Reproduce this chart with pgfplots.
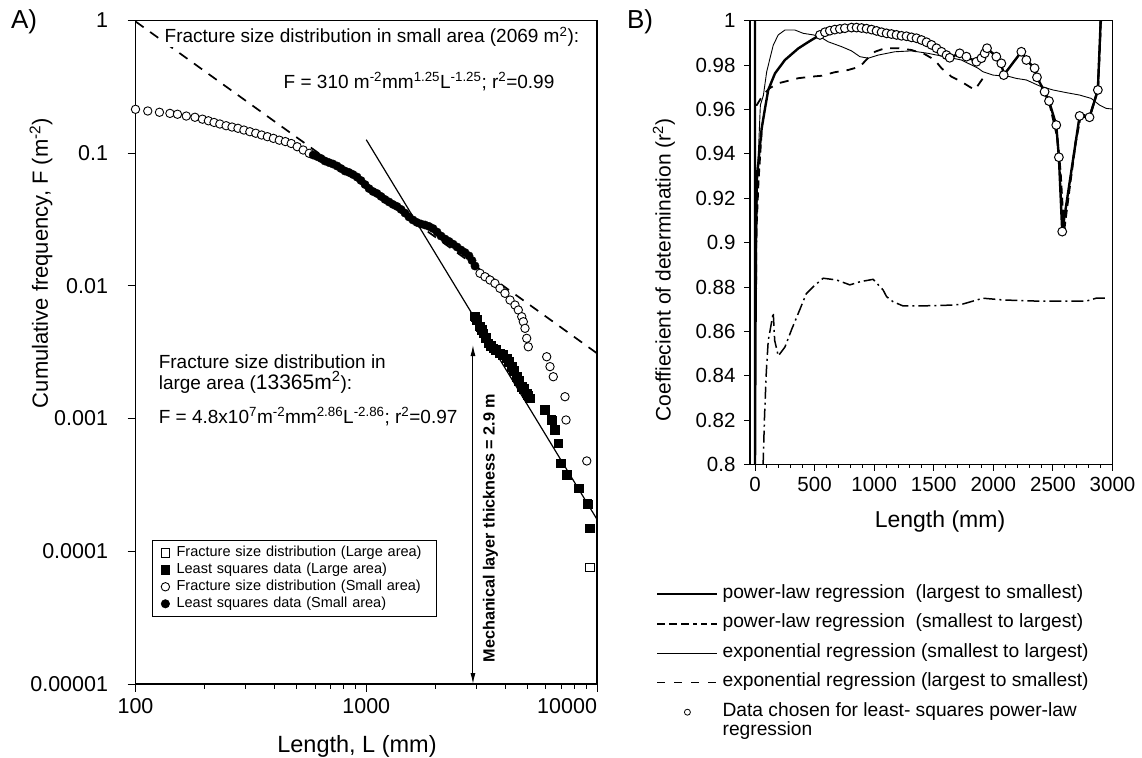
\documentclass[border=0pt]{standalone}
\usepackage{fontspec}
\setmainfont{Liberation Sans}
\usepackage{pgfplots}
\pgfplotsset{compat=1.18}
\usetikzlibrary{arrows.meta}
\newcommand\fs[1]{\fontsize{#1}{#1}\selectfont}
\begin{document}
\begin{tikzpicture}[x=1pt,y=1pt]
\useasboundingbox (0,0) rectangle (1142,757);
% ---------------- Panel A ----------------
\begin{axis}[
 at={(135.5pt,73pt)}, anchor=south west, scale only axis,
 width=461.5pt, height=663.7pt,
 xmode=log, ymode=log, xmin=100, xmax=10000, ymin=1e-5, ymax=1,
 clip=false,
 tick pos=left, tick align=outside,
 major tick length=8pt, minor tick length=5pt,
 every tick/.style={black, line width=1pt},
 axis line style={line width=1.3pt},
 xtick={100,1000,10000}, xticklabels={100,1000,\llap{10000}},
 ytick={1,0.1,0.01,0.001,0.0001,0.00001},
 yticklabels={1,0.1,0.01,0.001,0.0001,0.00001},
 ticklabel style={font=\fs{21.5}},
 yticklabel style={xshift=-16pt},
 xticklabel style={yshift=-3pt},
 /pgf/number format/assume math mode=true,
 legend style={at={(axis description cs:0.0355,0.217)}, anchor=north west,
   draw=black, line width=0.6pt, font=\fs{14.5}, inner xsep=9pt, inner ysep=5pt, row sep=2pt, column sep=6pt,
   nodes={inner sep=1pt, text height=10pt, text depth=3pt, text width=250pt}},
 legend cell align=left,
]
\addplot[forget plot, black, line width=1.7pt, dash pattern=on 10pt off 8pt] coordinates {(100,0.98) (10000,0.0031)};
\addplot[forget plot, black, line width=1.2pt] coordinates {(1000,0.126) (10000,0.000174)};
\addplot[only marks, mark=square*, mark size=4.2pt, mark options={draw=black, fill=white, line width=0.9pt}] coordinates {
(2958,0.00585) (3020,0.00553) (3112,0.00492) (3174,0.00464) (3215,0.00438) (3304,0.00404) (3381,0.00369) (3472,0.00352) (3553,0.00338) (3650,0.00328) (3797,0.0031) (3914,0.00301) (4061,0.00284) (4155,0.00267) (4266,0.00246) (4368,0.00228) (4484,0.002065) (4592,0.00192) (4718,0.00174) (4828,0.00167) (4958,0.00155) (5023,0.0015) (5124,0.00142) (5953,0.00116) (6364,0.000975) (6577,0.000819) (6797,0.00065) (6982,0.00046) (7413,0.000376) (8350,0.000298) (9100,0.000227) (9327,0.000149) (9327,0.0000757)};
\addlegendentry{Fracture size distribution (Large area)}
\addplot[only marks, mark=square*, mark size=4.2pt, mark options={draw=black, fill=black}] coordinates {
(2958,0.00585) (3020,0.00553) (3112,0.00492) (3174,0.00464) (3215,0.00438) (3304,0.00404) (3381,0.00369) (3472,0.00352) (3553,0.00338) (3650,0.00328) (3797,0.0031) (3914,0.00301) (4061,0.00284) (4155,0.00267) (4266,0.00246) (4368,0.00228) (4484,0.002065) (4592,0.00192) (4718,0.00174) (4828,0.00167) (4958,0.00155) (5023,0.0015) (5124,0.00142) (5953,0.00116) (6364,0.000975) (6577,0.000819) (6797,0.00065) (6982,0.00046) (7413,0.000376) (8350,0.000298) (9100,0.000227) (9327,0.000149)};
\addlegendentry{Least squares data (Large area)}
\addplot[only marks, mark=*, mark size=4.2pt, mark options={draw=black, fill=white, line width=0.9pt}] coordinates {
(100,0.2135) (113,0.2074) (127,0.2028) (141,0.199) (152,0.196) (166,0.190) (181,0.186) (195,0.180) (207,0.175) (219,0.170) (232,0.1655) (247,0.1607) (262,0.157) (278,0.1536) (295,0.149) (313,0.1448) (332,0.141) (352,0.1367) (373,0.1328) (396,0.129) (420,0.125) (446,0.122) (473,0.118) (502,0.1116) (533,0.1054) (566,0.0995)
(3112,0.01242) (3271,0.0117) (3437,0.01105) (3612,0.01044) (3797,0.00957) (3992,0.00878) (4198,0.00781) (4412,0.00716) (4560,0.00657) (4718,0.00585) (4794,0.00536) (4875,0.00478) (4958,0.00402) (5038,0.00347) (6053,0.00292) (6256,0.00246) (6465,0.002065) (7265,0.00146) (7340,0.000975) (9030,0.000479)};
\addlegendentry{Fracture size distribution (Small area)}
\addplot[only marks, mark=*, mark size=4.2pt, mark options={draw=black, fill=black}] coordinates {
(589,0.0966) (612,0.0942) (637,0.0910) (662,0.0871) (689,0.0848) (717,0.0827) (747,0.0799) (777,0.0765) (809,0.0732) (842,0.0714) (876,0.0689) (912,0.0660) (949,0.0621) (988,0.0579) (1028,0.0540) (1070,0.0513) (1113,0.0496) (1159,0.0471) (1206,0.0447) (1255,0.0428) (1306,0.0410) (1359,0.0396) (1415,0.0376) (1472,0.0353) (1532,0.0330) (1594,0.0313) (1659,0.0300) (1727,0.0292) (1798,0.0287) (1871,0.0280) (1947,0.0270) (2026,0.0254) (2109,0.0237) (2195,0.0225) (2284,0.0216) (2377,0.0206) (2474,0.0196) (2574,0.0186) (2679,0.0178) (2788,0.0168) (2873,0.0155) (2960,0.0141)};
\addlegendentry{Least squares data (Small area)}
\draw[{Latex[length=11pt,width=5pt]}-{Latex[length=11pt,width=5pt]}, line width=1pt] (axis cs:2900,0.00358) -- (axis cs:2900,0.00001);
\end{axis}
% ---------------- Panel B ----------------
\begin{axis}[
 at={(750pt,292.3pt)}, anchor=south west, scale only axis,
 width=362.5pt, height=444pt,
 xmin=-42, xmax=3000, ymin=0.8, ymax=1,
 clip=false, unbounded coords=jump,
 tick pos=left, tick align=outside,
 major tick length=6pt, minor tick length=3pt,
 every tick/.style={black, line width=1pt},
 axis line style={line width=1.2pt},
 xtick={0,500,1000,1500,2000,2500,3000}, xticklabels={0,500,1000,1500,2000,2500,3000},
 minor x tick num=4,
 ytick={0.8,0.82,0.84,0.86,0.88,0.9,0.92,0.94,0.96,0.98,1},
 yticklabels={0.8,0.82,0.84,0.86,0.88,0.9,0.92,0.94,0.96,0.98,1},
 ticklabel style={font=\fs{20.5}},
 yticklabel style={xshift=-5pt},
 xticklabel style={yshift=-3pt},
 legend style={at={(axis description cs:-0.2593,-0.2732)}, anchor=north west,
   draw=none, fill=none, font=\fs{19.2}, inner sep=0pt, row sep=13.5pt, column sep=4pt,
   nodes={inner sep=0pt, text height=12pt, text depth=4pt}},
 legend cell align=left,
]
\addplot[black, line width=2.4pt, legend image code/.code={\draw[black, line width=2.4pt] (0pt,0pt) -- (60pt,0pt);}] coordinates {
(0,1.0) (0,0.8) (4,0.86) (9,0.905) (14,0.9275) (34,0.9395) (56,0.9515) (84,0.9605) (111,0.9688) (168,0.9763) (251,0.9823) (363,0.9875) (450,0.9905)
(545,0.9936) (587,0.9948) (628,0.9955) (670,0.9960) (712,0.9963) (754,0.9966) (810,0.9969) (852,0.9969) (894,0.9967) (936,0.9964) (978,0.9960) (1020,0.9954) (1062,0.9948) (1104,0.9943) (1145,0.9940) (1187,0.9936) (1229,0.9932) (1271,0.9930) (1313,0.9925) (1355,0.9921) (1397,0.9913) (1439,0.9903) (1481,0.9891) (1523,0.9876) (1565,0.9860) (1607,0.9845) (1634,0.9833) (1718,0.9853) (1774,0.9838) (1858,0.9815) (1900,0.9831) (1927,0.9853) (1947,0.9876) (2025,0.9838) (2067,0.9808) (2087,0.9755) (2235,0.9860) (2277,0.9823) (2346,0.9786) (2366,0.9745) (2430,0.9680) (2467,0.9638) (2528,0.9530) (2550,0.9385) (2578,0.9050) (2724,0.9571) (2807,0.9565) (2877,0.9688) (2900,0.999) (2903,1.0)};
\addlegendentry{power-law regression\ \ (largest to smallest)}
\addplot[black, line width=2.2pt, dash pattern=on 8pt off 4pt, legend image code/.code={\draw[black, line width=2.4pt] (0pt,0pt) -- (40pt,0pt); \draw[black, line width=2.4pt] (44pt,0pt) -- (50pt,0pt); \draw[black, line width=2.4pt] (54pt,0pt) -- (60pt,0pt);}] coordinates {
(6,0.865) (10,0.905) (28,0.928) (56,0.9515) (60,nan)
(2430,0.9680) (2475,0.962) (2535,0.948) (2563,0.932) (2592,0.905) (2640,0.925) (2690,0.945) (2735,0.958) (2807,0.9565) (2877,0.9688) (2895,0.99) (2900,1.0)};
\addlegendentry{power-law regression\ \ (smallest to largest)}
\addplot[black, line width=0.9pt, legend image code/.code={\draw[black, line width=0.9pt] (0pt,0pt) -- (60pt,0pt);}] coordinates {
(5,0.87) (20,0.93) (45,0.962) (70,0.9663) (98,0.977) (153,0.989) (195,0.9936) (251,0.9958) (335,0.9958) (405,0.9943) (489,0.9936) (545,0.9928) (614,0.9905) (727,0.9883) (810,0.9864) (880,0.9838) (950,0.9831) (1033,0.9845) (1173,0.9860) (1313,0.9864) (1452,0.9853) (1592,0.9838) (1732,0.9823) (1871,0.9786) (1913,0.977) (1997,0.9755) (2137,0.9748) (2193,0.974) (2277,0.9733) (2388,0.9706) (2500,0.9688) (2612,0.9676) (2724,0.9665) (2821,0.965) (2891,0.962) (2947,0.9605) (3000,0.9602)};
\addlegendentry{exponential regression (smallest to largest)}
\addplot[black, line width=1.8pt, dash pattern=on 9pt off 8pt, legend image code/.code={\draw[black, line width=0.9pt, dash pattern=on 8pt off 9pt] (0pt,0pt) -- (60pt,0pt);}] coordinates {
(0,1.0) (0,0.962) (15,0.962) (60,0.966) (120,0.9695) (195,0.9718) (363,0.9741) (475,0.9748) (559,0.9752) (670,0.9768) (782,0.9778) (880,0.9793) (950,0.9833) (1006,0.986) (1089,0.9876) (1201,0.9876) (1313,0.9868) (1425,0.9849) (1508,0.9823) (1565,0.9786) (1648,0.9748) (1732,0.9725) (1844,0.9688) (1913,0.9741) (1955,0.9763)};
\addlegendentry{exponential regression (largest to smallest)}
\addplot[only marks, mark=*, mark size=4.4pt, mark options={draw=black, fill=white, line width=1pt}, legend image code/.code={\draw[black, fill=white, line width=0.8pt] (30pt,0pt) circle (3pt);}] coordinates {
(545,0.9936) (587,0.9948) (628,0.9955) (670,0.9960) (712,0.9963) (754,0.9966) (810,0.9969) (852,0.9969) (894,0.9967) (936,0.9964) (978,0.9960) (1020,0.9954) (1062,0.9948) (1104,0.9943) (1145,0.9940) (1187,0.9936) (1229,0.9932) (1271,0.9930) (1313,0.9925) (1355,0.9921) (1397,0.9913) (1439,0.9903) (1481,0.9891) (1523,0.9876) (1565,0.9860) (1607,0.9845) (1634,0.9833) (1718,0.9853) (1774,0.9838) (1858,0.9815) (1900,0.9831) (1927,0.9853) (1947,0.9876) (2025,0.9838) (2067,0.9808) (2087,0.9755) (2235,0.9860) (2277,0.9823) (2346,0.9786) (2366,0.9745) (2430,0.9680) (2467,0.9638) (2528,0.9530) (2550,0.9385) (2578,0.9050) (2724,0.9571) (2807,0.9565) (2877,0.9688)};
\addlegendentry{\parbox[t]{400pt}{\raggedright Data chosen for least- squares power-law\\regression}}
\addplot[forget plot, black, line width=1.5pt, dash pattern=on 12pt off 4pt on 2pt off 4pt] coordinates {
(68,0.80) (80,0.822) (95,0.842) (111,0.856) (125,0.860) (153,0.8685) (165,0.856) (195,0.849) (251,0.853) (308,0.861) (377,0.870) (430,0.877) (489,0.8802) (572,0.884) (685,0.8832) (796,0.881) (880,0.8824) (991,0.8835) (1075,0.8787) (1104,0.8757) (1159,0.8734) (1243,0.8715) (1383,0.8715) (1662,0.8719) (1746,0.8724) (1913,0.875) (2081,0.8742) (2361,0.8737) (2780,0.8737) (2863,0.875) (2961,0.875)};
\end{axis}
% ---------------- texts ----------------
\node[font=\fs{26}] at (24,735) {A)};
\node[font=\fs{26}] at (640,735) {B)};
\node[font=\fs{22}, rotate=90] at (41,494) {Cumulative frequency, F (m\textsuperscript{-2})};
\node[font=\fs{23.5}] at (357,11) {Length, L (mm)};
\node[font=\fs{21}, rotate=90] at (664,487) {Coeffiecient of determination (r\textsuperscript{2})};
\node[font=\fs{23}] at (940,235.3) {Length (mm)};
\node[font=\fs{19}, anchor=west, fill=white, inner sep=1pt] at (163.5,720.3) {Fracture size distribution in small area (2069 m\textsuperscript{2}):};
\node[font=\fs{19}, anchor=west, inner sep=0pt] at (283.5,675.3) {F = 310 m\textsuperscript{-2}mm\textsuperscript{1.25}L\textsuperscript{-1.25}; r\textsuperscript{2}=0.99};
\node[font=\fs{19}, anchor=base west, inner sep=0pt] at (158.6,388.5) {Fracture size distribution in};
\node[font=\fs{19}, anchor=base west, inner sep=0pt] at (158.6,367.5) {large area ({\fs{21}13365m\textsuperscript{2}}):};
\node[font=\fs{19}, anchor=west, inner sep=0pt] at (158.6,340.3) {F = 4.8x10\textsuperscript{7}m\textsuperscript{-2}mm\textsuperscript{2.86}L\textsuperscript{-2.86}; r\textsuperscript{2}=0.97};
\node[font=\bfseries\fs{16.2}, rotate=90] at (490.5,229) {Mechanical layer thickness = 2.9 m};
\end{tikzpicture}
\end{document}
